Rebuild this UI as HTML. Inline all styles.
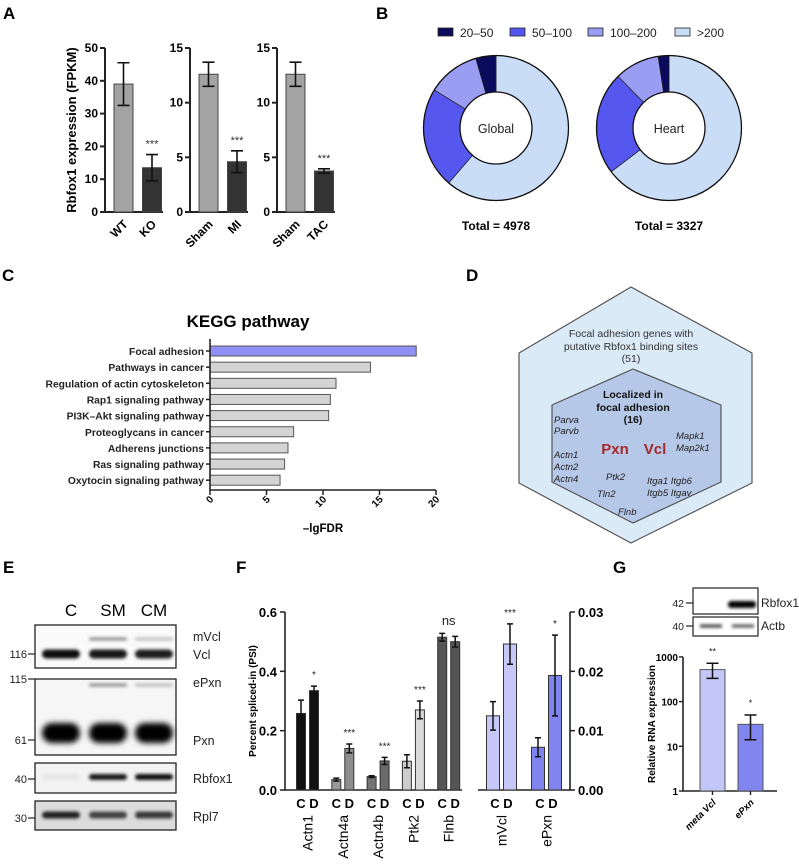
<!DOCTYPE html>
<html><head><meta charset="utf-8"><style>
html,body{margin:0;padding:0;background:#fff;}
svg{display:block;font-family:"Liberation Sans",sans-serif;}
.b{font-weight:bold;}
</style></head><body>
<svg id="fig" width="799" height="864" viewBox="0 0 799 864">
<defs>
<filter id="blur1" x="-20%" y="-100%" width="140%" height="300%"><feGaussianBlur stdDeviation="1.6"/></filter>
<filter id="blur2" x="-20%" y="-100%" width="140%" height="300%"><feGaussianBlur stdDeviation="3"/></filter>
</defs>
<g font-weight="bold" font-size="17">
<text x="3" y="19">A</text>
<text x="376" y="19">B</text>
<text x="2" y="281">C</text>
<text x="466" y="281">D</text>
<text x="3" y="573">E</text>
<text x="236" y="573">F</text>
<text x="613" y="573">G</text>
</g>
<g id="pA"></g>
<g id="pB"></g>
<g id="pC"></g>
<g id="pD">
<path d="M631,287 L752,353 L752,483 L631,543 L519,483 L519,353 Z" fill="#daeaf7" stroke="#555" stroke-width="1.2" stroke-linejoin="round"/>
<path d="M633,369 L721,405 L721,482 L633,523 L552,482 L552,405 Z" fill="#b6c8e8" stroke="#555" stroke-width="1.2" stroke-linejoin="round"/>
<g font-size="10.5" fill="#333" text-anchor="middle">
<text x="631" y="337">Focal adhesion genes with</text>
<text x="631" y="350">putative Rbfox1 binding sites</text>
<text x="631" y="362">(51)</text>
</g>
<g font-size="10.5" font-weight="bold" fill="#111" text-anchor="middle">
<text x="633" y="398">Localized in</text>
<text x="633" y="411">focal adhesion</text>
<text x="633" y="423">(16)</text>
</g>
<g font-size="9.5" font-style="italic" fill="#222">
<text x="554" y="423">Parva</text><text x="554" y="434">Parvb</text>
<text x="554" y="458">Actn1</text><text x="554" y="470">Actn2</text><text x="554" y="482">Actn4</text>
<text x="676" y="439">Mapk1</text><text x="676" y="451">Map2k1</text>
<text x="606" y="480">Ptk2</text>
<text x="647" y="484">Itga1 Itgb6</text><text x="647" y="496">Itgb5 Itgav</text>
<text x="597" y="497">Tln2</text><text x="618" y="515">Flnb</text>
</g>
<g font-size="15" font-weight="bold" fill="#a52a2a" text-anchor="middle">
<text x="615" y="454">Pxn</text><text x="655" y="454">Vcl</text>
</g>
</g>
<g id="pE">
<g font-family="'Liberation Sans Narrow','Liberation Sans',sans-serif" font-size="17" text-anchor="middle">
<text x="71" y="616">C</text><text x="113" y="616">SM</text><text x="154" y="616">CM</text>
</g>
</g>
<g id="pF"></g>
<g id="pG"></g>
</svg>
<script>
const NS='http://www.w3.org/2000/svg';
function mk(tag,attrs,parent){const e=document.createElementNS(NS,tag);for(const k in attrs)e.setAttribute(k,attrs[k]);parent.appendChild(e);return e;}
function tx(str,attrs,parent){const e=mk('text',attrs,parent);e.textContent=str;return e;}

/* ---------- Panel A data ---------- */
const aCats=[['WT','KO'],['Sham','MI'],['Sham','TAC']];
const aVals=[[39,13.5],[12.6,4.6],[12.6,3.75]];
const aErr=[[6.5,4],[1.1,1],[1.1,0.2]];
const aMax=[50,15,15];
const aTicks=[[0,10,20,30,40,50],[0,5,10,15],[0,5,10,15]];
const aStars=['***','***','***'];

/* ---------- Panel B data ---------- */
const bCats=['20–50','50–100','100–200','>200'];
const bGlobal=[4.5,22.5,11.7,61.3];
const bHeart=[2.4,22.9,10.0,64.7];
const bTotals=['Total = 4978','Total = 3327'];
const bNames=['Global','Heart'];

/* ---------- Panel C data ---------- */
const cPathways=['Focal adhesion','Pathways in cancer','Regulation of actin cytoskeleton','Rap1 signaling pathway','PI3K–Akt signaling pathway','Proteoglycans in cancer','Adherens junctions','Ras signaling pathway','Oxytocin signaling pathway'];
const cValues=[18.25,14.2,11.15,10.65,10.5,7.4,6.9,6.6,6.2];
const cTicks=[0,5,10,15,20];

/* ---------- Panel F data ---------- */
const fGenes=['Actn1','Actn4a','Actn4b','Ptk2','Flnb'];
const fC=[0.258,0.035,0.045,0.097,0.515];
const fCerr=[0.045,0.005,0.003,0.022,0.013];
const fD=[0.335,0.14,0.098,0.27,0.5];
const fDerr=[0.015,0.015,0.012,0.03,0.018];
const fStars=['*','***','***','***','ns'];
const fTicks=[0,0.2,0.4,0.6];
const fRGenes=['mVcl','ePxn'];
const fRC=[0.0125,0.0072];
const fRCerr=[0.0024,0.0016];
const fRD=[0.0246,0.0193];
const fRDerr=[0.0034,0.0068];
const fRStars=['***','*'];
const fRTicks=[0,0.01,0.02,0.03];

/* ---------- Panel G data ---------- */
const gCats=['meta Vcl','ePxn'];
const gVals=[520,31];
const gLo=[330,14];
const gHi=[720,50];
const gStars=['**','*'];
const gTicks=[1,10,100,1000];

/* ===== Panel A ===== */
(function(){
const g=document.getElementById('pA');
const axX=[105,190,277], y0=212, yT=48;
const t=tx('Rbfox1 expression (FPKM)',{x:0,y:0,'font-size':13,'font-weight':'bold','text-anchor':'middle',transform:'translate(76,130) rotate(-90)'},g);


for(let p=0;p<3;p++){
  const sy=v=>y0-(v/aMax[p])*(y0-yT);
  const ax=mk('path',{d:`M${axX[p]},${yT} V${y0} H${axX[p]+58}`,stroke:'#222','stroke-width':2,fill:'none'},g);
  
  
  aTicks[p].forEach(tv=>{
    const y=sy(tv);
    const tk=mk('line',{x1:axX[p]-5,x2:axX[p],y1:y,y2:y,stroke:'#222','stroke-width':2},g);
    
    
    const tl=tx(String(tv),{x:axX[p]-7,y:y+4,'font-size':12,'font-weight':'bold','text-anchor':'end'},g);
    
    
  });
  const cx=[axX[p]+18.5,axX[p]+47];
  for(let i=0;i<2;i++){
    const v=aVals[p][i], e=aErr[p][i];
    const r=mk('rect',{x:cx[i]-9.5,y:sy(v),width:19,height:y0-sy(v),fill:i?'#333':'#a3a3a3',stroke:'#444','stroke-width':1},g);
    
    
    const eb=mk('path',{d:`M${cx[i]},${sy(v+e)} V${sy(v-e)} M${cx[i]-6},${sy(v+e)} H${cx[i]+6} M${cx[i]-6},${sy(v-e)} H${cx[i]+6}`,stroke:'#111','stroke-width':1.6,fill:'none'},g);
    
    
    const xl=tx(aCats[p][i],{x:0,y:0,'font-size':12,'font-weight':'bold','text-anchor':'end',transform:`translate(${cx[i]+5},${y0+13}) rotate(-45)`},g);
    
    
    if(i===1){
      const st=tx(aStars[p],{x:cx[i],y:sy(v+e)-7,'font-size':11,'text-anchor':'middle',fill:'#333'},g);
      
      
    }
  }
}
})();

/* ===== Panel B ===== */
(function(){
const g=document.getElementById('pB');
const cols=['#0b0b5e','#5557ee','#9b9df3','#c9ddf6'];
const lx=[438,510,588,675];
bCats.forEach((c,i)=>{
  const r=mk('rect',{x:lx[i],y:28,width:15,height:8,fill:cols[i],stroke:'#222','stroke-width':0.8},g);
  
  
  const t=tx(c,{x:lx[i]+22,y:37,'font-size':12,fill:'#222'},g);
  
  
});
const order=[3,1,2,0];
[[496,bGlobal],[669,bHeart]].forEach(([cx,vals],k)=>{
  const cy=128,R=72.5,r0=36;
  const tot=vals.reduce((a,b)=>a+b,0);
  let a=0;
  order.forEach(idx=>{
    const a1=a, a2=a+vals[idx]/tot*2*Math.PI; a=a2;
    const p=(ang,rr)=>[cx+rr*Math.sin(ang),cy-rr*Math.cos(ang)];
    const [x1,y1]=p(a1,R),[x2,y2]=p(a2,R),[x3,y3]=p(a2,r0),[x4,y4]=p(a1,r0);
    const lg=(a2-a1)>Math.PI?1:0;
    const s=mk('path',{d:`M${x1},${y1} A${R},${R} 0 ${lg} 1 ${x2},${y2} L${x3},${y3} A${r0},${r0} 0 ${lg} 0 ${x4},${y4} Z`,fill:cols[idx],stroke:'#222','stroke-width':0.7},g);
    
    
  });
  const o=mk('circle',{cx,cy,r:R,fill:'none',stroke:'#111','stroke-width':1.3},g);
  
  
  const ic=mk('circle',{cx,cy,r:r0,fill:'#fff',stroke:'#111','stroke-width':1.3},g);
  
  
  const nm=tx(bNames[k],{x:cx,y:cy+5,'font-size':12.5,'text-anchor':'middle',fill:'#222'},g);
  
  
  const tt=tx(bTotals[k],{x:cx,y:230,'font-size':12,'font-weight':'bold','text-anchor':'middle'},g);
  
  
});
})();

/* ===== Panel C ===== */
(function(){
const g=document.getElementById('pC');
const x0=210, sx=v=>x0+v*11.3, rowY=i=>351+i*16.15;
const ti=tx('KEGG pathway',{x:248,y:327,'font-size':17,'font-weight':'bold','text-anchor':'middle'},g);


cPathways.forEach((n,i)=>{
  const y=rowY(i);
  const r=mk('rect',{x:x0,y:y-5,width:sx(cValues[i])-x0,height:10,fill:i===0?'#8f8ff5':'#d4d4d4',stroke:'#555','stroke-width':1},g);
  
  
  const tk=mk('line',{x1:x0-4,x2:x0,y1:y,y2:y,stroke:'#222','stroke-width':1.5},g);
  
  
  const l=tx(n,{x:x0-6,y:y+4,'font-size':10.3,'font-weight':'bold','text-anchor':'end',fill:'#222'},g);
  
  
});
const ax=mk('path',{d:`M${x0},339 V490 H${sx(20)}`,stroke:'#222','stroke-width':1.6,fill:'none'},g);


cTicks.forEach(v=>{
  const tk=mk('line',{x1:sx(v),x2:sx(v),y1:490,y2:495,stroke:'#222','stroke-width':1.5},g);
  
  
  const l=tx(String(v),{x:0,y:0,'font-size':10,'font-weight':'bold','text-anchor':'end',transform:`translate(${sx(v)+4},${500}) rotate(-45)`},g);
  
  
});
const xt=tx('–lgFDR',{x:323,y:532,'font-size':11.5,'font-weight':'bold','text-anchor':'middle'},g);


})();

/* ===== Panel E (blot) ===== */
(function(){
const g=document.getElementById('pE');
const boxes=[[625,668,'Vcl'],[679,755,'Pxn'],[763,793,'Rbfox1'],[801,830,'Rpl7']];
const lanes=[61,108,154];
const bg=['#fafafa','#f6f6f6','#f3f3f3','#dcdcdc'];
boxes.forEach((b,i)=>{
  const r=mk('rect',{x:35,y:b[0],width:141,height:b[1]-b[0],fill:bg[i],stroke:'#222','stroke-width':1.3},g);
  
  
});
const bands=[
 [654,9,[0.95,0.9,0.88],'blur1'],[639,3,[0,0.45,0.25],'blur1'],
 [685,3,[0,0.45,0.25],'blur1'],[733,20,[1,1,1],'blur2'],
 [777,6,[0.05,0.9,0.95],'blur1'],[815,7,[0.85,0.7,0.75],'blur1']];
bands.forEach(bd=>{
  lanes.forEach((lx,j)=>{
    if(bd[2][j]<=0)return;
    const e=mk('rect',{x:lx-19,y:bd[0]-bd[1]/2,width:38,height:bd[1],rx:bd[1]/2,fill:'#000','fill-opacity':bd[2][j],filter:`url(#${bd[3]})`},g);
    
    
  });
});
const markers=[['116',654],['115',679],['61',740],['40',779],['30',818]];
markers.forEach(m=>{
  const t=tx(m[0],{x:27,y:m[1]+4,'font-size':11,'text-anchor':'end',fill:'#222','font-family':"'Liberation Sans Narrow','Liberation Sans',sans-serif"},g);
  
  
  const l=mk('line',{x1:28,x2:35,y1:m[1],y2:m[1],stroke:'#222','stroke-width':1.2},g);
  
  
});
const labs=[['mVcl',641],['Vcl',659],['ePxn',687],['Pxn',745],['Rbfox1',783],['Rpl7',821]];
labs.forEach(m=>{
  const t=tx(m[0],{x:193,y:m[1],'font-size':12.5,fill:'#222','font-family':"'Liberation Sans Narrow','Liberation Sans',sans-serif"},g);
  
  
});
})();

/* ===== Panel F ===== */
(function(){
const g=document.getElementById('pF');
const y0=790,h=178, sy=v=>y0-v/0.6*h, syR=v=>y0-v/0.03*h;
const ax=mk('path',{d:`M285,${sy(0.6)} V${y0} H462`,stroke:'#222','stroke-width':1.6,fill:'none'},g);


const ax2=mk('path',{d:`M478,${y0} H570 V${syR(0.03)}`,stroke:'#222','stroke-width':1.6,fill:'none'},g);


fTicks.forEach(v=>{
  const tk=mk('line',{x1:280,x2:285,y1:sy(v),y2:sy(v),stroke:'#222','stroke-width':1.5},g);
  
  
  const l=tx(v.toFixed(1),{x:277,y:sy(v)+5,'font-size':13,'font-weight':'bold','text-anchor':'end'},g);
  
  
});
fRTicks.forEach(v=>{
  const tk=mk('line',{x1:570,x2:575,y1:syR(v),y2:syR(v),stroke:'#222','stroke-width':1.5},g);
  
  
  const l=tx(v.toFixed(2),{x:578,y:syR(v)+5,'font-size':13,'font-weight':'bold'},g);
  
  
});
const yt=tx('Percent spliced-in  (PSI)',{x:0,y:0,'font-size':10,'font-weight':'bold','text-anchor':'middle',transform:'translate(256,701) rotate(-90)'},g);


const cols=[['#111','#111'],['#9a9a9a','#8e8e8e'],['#747474','#6a6a6a'],['#cdcdcd','#dadada'],['#555','#555']];
function bar(cx,w,yv,ylo,yhi,fill,name){
  const r=mk('rect',{x:cx-w/2,y:yv,width:w,height:y0-yv,fill,stroke:'#333','stroke-width':1},g);
  
  
  const e=mk('path',{d:`M${cx},${yhi} V${ylo} M${cx-3},${yhi} H${cx+3} M${cx-3},${ylo} H${cx+3}`,stroke:'#111','stroke-width':1.5,fill:'none'},g);
  
  
}
fGenes.forEach((n,i)=>{
  const c=307.5+i*35.3;
  bar(c-6.5,9,sy(fC[i]),sy(fC[i]-fCerr[i]),sy(fC[i]+fCerr[i]),cols[i][0],'bar-'+n.toLowerCase()+'-c');
  bar(c+6.5,9,sy(fD[i]),sy(fD[i]-fDerr[i]),sy(fD[i]+fDerr[i]),cols[i][1],'bar-'+n.toLowerCase()+'-d');
  const isNs=fStars[i]==='ns';
  const st=tx(fStars[i],{x:isNs?c:c+6.5,y:isNs?sy(0.6)+13:sy(fD[i]+fDerr[i])-8,'font-size':isNs?13:10,'text-anchor':'middle',fill:'#222'},g);
  
  
  const cd=tx('C D',{x:c,y:808,'font-size':13,'font-weight':'bold','text-anchor':'middle'},g);
  
  
  const gl=tx(n,{x:0,y:0,'font-size':14,'text-anchor':'end',transform:`translate(${c+5},815) rotate(-90)`},g);
  
  
});
const rc=[['#c6c9f7','#c6c9f7'],['#8084ee','#8084ee']];
fRGenes.forEach((n,i)=>{
  const c=501.5+i*45;
  bar(c-8.5,13,syR(fRC[i]),syR(fRC[i]-fRCerr[i]),syR(fRC[i]+fRCerr[i]),rc[i][0],'bar-'+n.toLowerCase()+'-c');
  bar(c+8.5,13,syR(fRD[i]),syR(fRD[i]-fRDerr[i]),syR(fRD[i]+fRDerr[i]),rc[i][1],'bar-'+n.toLowerCase()+'-d');
  const st=tx(fRStars[i],{x:c+8.5,y:syR(fRD[i]+fRDerr[i])-8,'font-size':10,'text-anchor':'middle',fill:'#222'},g);
  
  
  const cd=tx('C    D',{x:c,y:808,'font-size':13,'font-weight':'bold','text-anchor':'middle','xml:space':'preserve'},g);
  
  
  const gl=tx(n,{x:0,y:0,'font-size':14,'text-anchor':'end',transform:`translate(${c+5},815) rotate(-90)`},g);
  
  
});
})();

/* ===== Panel G ===== */
(function(){
const g=document.getElementById('pG');
const b1=mk('rect',{x:693,y:588,width:65,height:26,fill:'#fff',stroke:'#222','stroke-width':1.2},g);


const b2=mk('rect',{x:693,y:617,width:65,height:19,fill:'#fff',stroke:'#222','stroke-width':1.2},g);


const bd1=mk('rect',{x:728,y:601,width:28,height:7,rx:3,fill:'#000',filter:'url(#blur1)'},g);


[[700,0.8],[732,0.7]].forEach(b=>{
  const bd=mk('rect',{x:b[0],y:624.5,width:22,height:3,fill:'#000','fill-opacity':b[1],filter:'url(#blur1)'},g);
  
  
});
[['42',603],['40',626]].forEach(m=>{
  const t=tx(m[0],{x:684,y:m[1]+4,'font-size':10.5,'text-anchor':'end',fill:'#222','font-family':"'Liberation Sans Narrow','Liberation Sans',sans-serif"},g);
  
  
  const l=mk('line',{x1:686,x2:693,y1:m[1],y2:m[1],stroke:'#222','stroke-width':1.2},g);
  
  
});
[['Rbfox1',607],['Actb',630]].forEach(m=>{
  const t=tx(m[0],{x:761,y:m[1],'font-size':12,fill:'#222','font-family':"'Liberation Sans Narrow','Liberation Sans',sans-serif"},g);
  
  
});
const y1=791, sy=v=>y1-Math.log10(v)*44.7;
const ax=mk('path',{d:`M683,${sy(1000)} V${y1} H777`,stroke:'#222','stroke-width':1.6,fill:'none'},g);


gTicks.forEach(v=>{
  const tk=mk('line',{x1:679,x2:683,y1:sy(v),y2:sy(v),stroke:'#222','stroke-width':1.4},g);
  
  
  const l=tx(String(v),{x:678,y:sy(v)+4,'font-size':10,'font-weight':'bold','text-anchor':'end'},g);
  
  
});
const yt=tx('Relative  RNA  expression',{x:0,y:0,'font-size':10,'font-weight':'bold','text-anchor':'middle','xml:space':'preserve',transform:'translate(655,724) rotate(-90)'},g);


const cols=['#c3c6f8','#8185ef'];
gCats.forEach((n,i)=>{
  const c=712.5+i*38;
  const r=mk('rect',{x:c-12.5,y:sy(gVals[i]),width:25,height:y1-sy(gVals[i]),fill:cols[i],stroke:'#555','stroke-width':1},g);
  
  
  const e=mk('path',{d:`M${c},${sy(gHi[i])} V${sy(gLo[i])} M${c-6},${sy(gHi[i])} H${c+6} M${c-6},${sy(gLo[i])} H${c+6}`,stroke:'#111','stroke-width':1.5,fill:'none'},g);
  
  
  const st=tx(gStars[i],{x:c,y:sy(gHi[i])-9,'font-size':9,'text-anchor':'middle',fill:'#222'},g);
  
  
  const tk=mk('line',{x1:c,x2:c,y1:y1,y2:y1+4,stroke:'#222','stroke-width':1.4},g);
  
  
  const xl=tx(n,{x:0,y:0,'font-size':9.5,'font-weight':'bold','font-style':'italic','text-anchor':'end',transform:`translate(${c+4},${y1+12}) rotate(-45)`},g);
  
  
});
})();
</script>
</body></html>
